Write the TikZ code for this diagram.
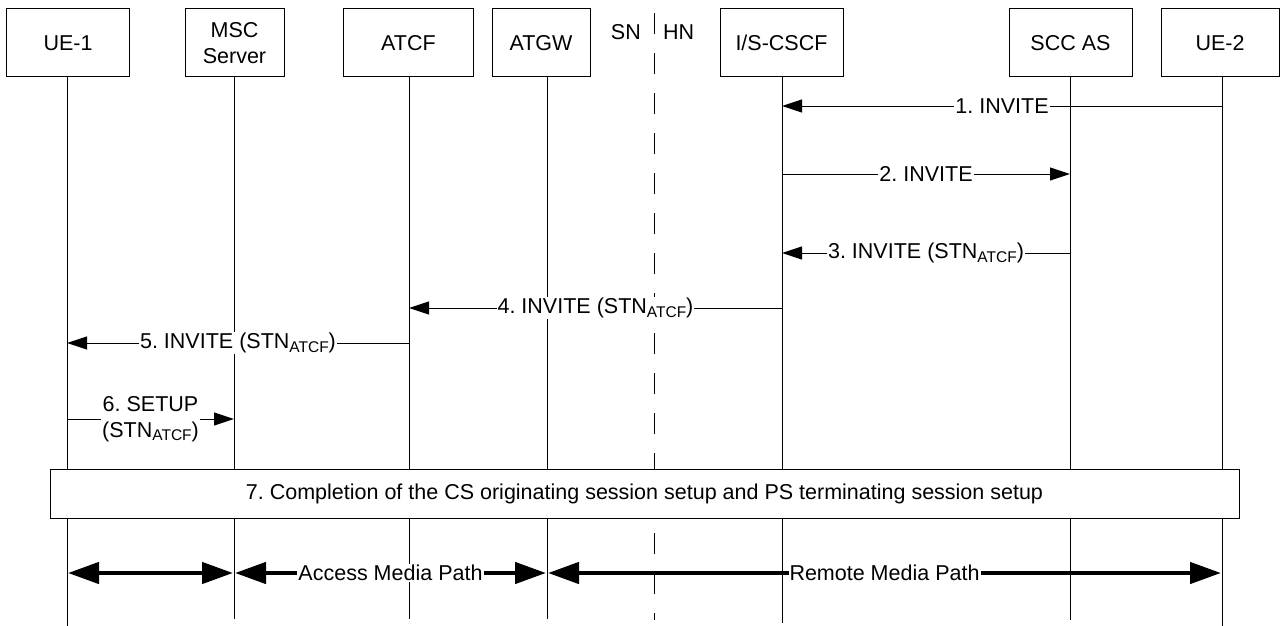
\documentclass[tikz,border=0pt]{standalone}
\usepackage{fontspec}
\setmainfont{Liberation Sans}
\usetikzlibrary{arrows.meta}
\frenchspacing
\newcommand\stnatcf{(STN\raisebox{-3.5pt}{\fontsize{15.5}{15.5}\selectfont ATCF})}
\begin{document}
\begin{tikzpicture}[x=1pt,y=-1pt,
  txt/.style={font=\fontsize{21.5}{26}\selectfont},
  ent/.style={txt, draw, line width=1pt, minimum height=68pt, inner sep=0pt, align=center},
  life/.style={line width=1pt},
  msg/.style={line width=1pt, -{Triangle[length=20pt,width=13pt]}},
  lbl/.style={txt, fill=white, inner sep=1pt, align=center},
  media/.style={line width=4.5pt, {Triangle[length=31pt,width=21pt]}-{Triangle[length=31pt,width=21pt]}, shorten <=1pt, shorten >=1pt},
  sep/.style={line width=1pt, dash pattern=on 21pt off 19pt}]
\useasboundingbox (0,0) rectangle (1285,626);

% entities
\node[ent, minimum width=123pt] (ue1) at (68,43) {UE-1};
\node[ent, minimum width=99pt] (msc) at (234.5,43) {MSC\\Server};
\node[ent, minimum width=130pt] (atcf) at (408.5,43) {ATCF};
\node[ent, minimum width=98pt] (atgw) at (541,43) {ATGW};
\node[ent, minimum width=123pt] (cscf) at (781.5,43) {I/S-CSCF};
\node[ent, minimum width=123pt] (scc) at (1070.5,43) {SCC AS};
\node[ent, minimum width=118pt] (ue2) at (1220,43) {UE-2};

\node[txt, anchor=east, inner sep=0pt] (sn) at (641,32) {SN};
\node[txt, anchor=west, inner sep=0pt] (hn) at (663,32) {HN};

% lifeline tops
\coordinate (ue1L) at (67,77);
\coordinate (mscL) at (234,77);
\coordinate (atcfL) at (409,77);
\coordinate (atgwL) at (547,77);
\coordinate (cscfL) at (782,77);
\coordinate (sccL) at (1070,77);
\coordinate (ue2L) at (1222,77);
\coordinate (sepT) at (654,13);
\coordinate (sepB) at (654,620);

% lifelines
\draw[life] (ue1L) -- (ue1L |- 0,626);
\draw[life] (mscL) -- (mscL |- 0,619);
\draw[life] (atcfL) -- (atcfL |- 0,619);
\draw[life] (atgwL) -- (atgwL |- 0,619);
\draw[life] (cscfL) -- (cscfL |- 0,623);
\draw[life] (sccL) -- (sccL |- 0,620);
\draw[life] (ue2L) -- (ue2L |- 0,626);
\draw[sep] (sepT) -- (sepB);

% messages
\draw[msg] (ue2L |- 0,106) -- node[lbl] {1. INVITE} (cscfL |- 0,106);
\draw[msg] (cscfL |- 0,174) -- node[lbl] {2. INVITE} (sccL |- 0,174);
\draw[msg] (sccL |- 0,253) -- node[lbl] {3. INVITE \stnatcf} (cscfL |- 0,253);
\draw[msg] (cscfL |- 0,308) -- node[lbl] {4. INVITE \stnatcf} (atcfL |- 0,308);
\draw[msg] (atcfL |- 0,343) -- node[lbl] {5. INVITE \stnatcf} (ue1L |- 0,343);
\draw[msg] (ue1L |- 0,419) -- node[lbl] {6. SETUP\\\stnatcf} (mscL |- 0,419);

% step 7
\node[txt, draw, line width=1pt, fill=white, minimum width=1189pt, minimum height=49pt, inner sep=0pt] (s7) at (644.5,493.5)
  {7. Completion of the CS originating session setup and PS terminating session setup};

% media paths
\draw[media] (ue1L |- 0,573) -- (mscL |- 0,573);
\draw[media] (mscL |- 0,573) -- node[lbl] {Access Media Path} (atgwL |- 0,573);
\draw[media] (atgwL |- 0,573) -- node[lbl] {Remote Media Path} (ue2L |- 0,573);
\end{tikzpicture}
\end{document}
